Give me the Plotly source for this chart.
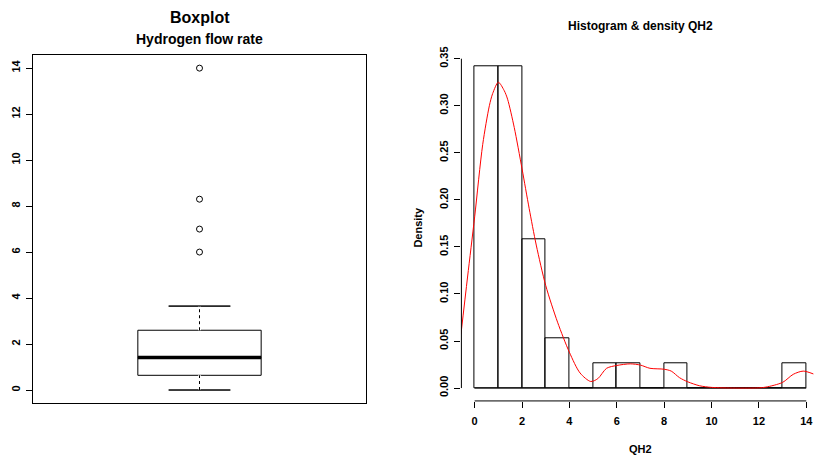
import plotly.graph_objects as go

# ---------------- data ----------------
# Boxplot statistics of the hydrogen flow rate (QH2)
box_lower_whisker = 0.0
box_q1 = 0.64
box_median = 1.41
box_q3 = 2.60
box_upper_whisker = 3.65
box_outliers = [6.0, 7.0, 8.3, 14.0]
box_y_ticks = [0, 2, 4, 6, 8, 10, 12, 14]

# Histogram of QH2 (bin edges and counts)
hist_bin_edges = [0, 1, 2, 3, 4, 5, 6, 7, 8, 9, 10, 11, 12, 13, 14]
hist_counts = [13, 13, 6, 2, 0, 1, 1, 0, 1, 0, 0, 0, 0, 1]
hist_x_ticks = [0, 2, 4, 6, 8, 10, 12, 14]
hist_y_ticks = [0.00, 0.05, 0.10, 0.15, 0.20, 0.25, 0.30, 0.35]
hist_y_ticklabels = ["0.00", "0.05", "0.10", "0.15", "0.20", "0.25", "0.30", "0.35"]

# Kernel density curve
dens_x = [-0.58, -0.3, 0.0, 0.34, 0.62, 0.76, 1.0, 1.25, 1.39, 1.67, 2.0, 2.3, 2.6,
          3.0, 3.5, 4.0, 4.45, 4.9, 5.2, 5.57, 6.0, 6.57, 7.0, 7.4, 8.0, 8.3, 8.65,
          9.0, 9.5, 10.0, 11.0, 12.0, 12.3, 13.0, 13.45, 13.87, 14.3]
dens_y = [0.057, 0.118, 0.182, 0.259, 0.300, 0.313, 0.325, 0.316, 0.307, 0.277,
          0.233, 0.191, 0.152, 0.109, 0.070, 0.038, 0.016, 0.007, 0.010, 0.021,
          0.024, 0.0257, 0.0244, 0.021, 0.020, 0.018, 0.011, 0.0066, 0.0024,
          0.0007, 0.0, 0.0002, 0.001, 0.006, 0.0146, 0.018, 0.015]

# ---------------- derived ----------------
n_obs = sum(hist_counts)
bin_widths = [b - a for a, b in zip(hist_bin_edges[:-1], hist_bin_edges[1:])]
bin_centers = [(a + b) / 2 for a, b in zip(hist_bin_edges[:-1], hist_bin_edges[1:])]
hist_density = [c / (n_obs * w) for c, w in zip(hist_counts, bin_widths)]

W, H = 814, 461
FONT = "Liberation Sans, Arial, Helvetica, sans-serif"

# panel geometry (pixels)
L_X = (33, 366)
L_Y = (49, 402)
R_X = (461.4, 814)
R_Y = (47, 400)

def xdom(px):
    return [px[0] / W, px[1] / W]

def ydom(py):
    return [(H - py[1]) / H, (H - py[0]) / H]

box_pos = 1.0
box_width = 0.4
cap_half = box_width / 4

left_yrange = [box_lower_whisker - 0.04 * 14, 14 + 0.04 * 14]
left_xrange = [0.46, 1.54]

hx_scale = (806.3 - 474.7) / 14.0
right_xrange = [-0.56, -0.56 + (R_X[1] - R_X[0]) / hx_scale]
right_yrange = [-0.04 * max(hist_density), max(hist_density) * 1.04]

fig = go.Figure()

# ---------- left: boxplot ----------
fig.add_trace(go.Box(
    x=[box_pos], q1=[box_q1], median=[box_median], q3=[box_q3],
    lowerfence=[box_lower_whisker], upperfence=[box_upper_whisker],
    width=box_width, whiskerwidth=0.5, fillcolor="white",
    line=dict(color="black", width=1), boxpoints=False,
    xaxis="x", yaxis="y", showlegend=False, hoverinfo="skip"))

# dashed whiskers (cover the solid stems, then dotted)
for lo, hi in [(box_q3, box_upper_whisker), (box_lower_whisker, box_q1)]:
    fig.add_trace(go.Scatter(x=[box_pos, box_pos], y=[lo, hi], mode="lines",
                             line=dict(color="white", width=3),
                             xaxis="x", yaxis="y", showlegend=False, hoverinfo="skip"))
    fig.add_trace(go.Scatter(x=[box_pos, box_pos], y=[lo, hi], mode="lines",
                             line=dict(color="black", width=1, dash="3px,3px"),
                             xaxis="x", yaxis="y", showlegend=False, hoverinfo="skip"))
# caps
for v in [box_upper_whisker, box_lower_whisker]:
    fig.add_trace(go.Scatter(x=[box_pos - cap_half, box_pos + cap_half], y=[v, v],
                             mode="lines", line=dict(color="black", width=1),
                             xaxis="x", yaxis="y", showlegend=False, hoverinfo="skip"))
# thick median
fig.add_trace(go.Scatter(x=[box_pos - box_width / 2, box_pos + box_width / 2],
                         y=[box_median, box_median], mode="lines",
                         line=dict(color="black", width=3.5),
                         xaxis="x", yaxis="y", showlegend=False, hoverinfo="skip"))
# outliers
fig.add_trace(go.Scatter(x=[box_pos] * len(box_outliers), y=box_outliers, mode="markers",
                         marker=dict(symbol="circle-open", size=6,
                                     line=dict(color="black", width=1), color="black"),
                         xaxis="x", yaxis="y", showlegend=False, hoverinfo="skip"))

# ---------- right: histogram ----------
fig.add_trace(go.Bar(x=bin_centers, y=hist_density, width=bin_widths,
                     marker=dict(color="rgba(0,0,0,0)", line=dict(color="black", width=1)),
                     xaxis="x2", yaxis="y2", showlegend=False, hoverinfo="skip"))
fig.add_trace(go.Scatter(x=[hist_bin_edges[0], hist_bin_edges[-1]], y=[0, 0], mode="lines",
                         line=dict(color="black", width=1),
                         xaxis="x2", yaxis="y2", showlegend=False, hoverinfo="skip"))
fig.add_trace(go.Scatter(x=dens_x, y=dens_y, mode="lines",
                         line=dict(color="#FF0000", width=1, shape="spline", smoothing=0.8),
                         xaxis="x2", yaxis="y2", showlegend=False, hoverinfo="skip"))

tickfont = dict(family=FONT, size=11, color="black", weight="bold")

fig.update_layout(
    width=W, height=H, margin=dict(l=0, r=0, t=0, b=0),
    paper_bgcolor="white", plot_bgcolor="white",
    font=dict(family=FONT, color="black"),
    xaxis=dict(domain=xdom(L_X), range=left_xrange, showgrid=False, zeroline=False,
               showticklabels=False, ticks="", showline=True, mirror=True,
               linecolor="black", linewidth=1, anchor="y"),
    yaxis=dict(domain=ydom(L_Y), range=left_yrange, showgrid=False, zeroline=False,
               tickvals=box_y_ticks, ticktext=[str(t) for t in box_y_ticks],
               ticks="outside", ticklen=6, tickcolor="black", tickangle=-90,
               tickfont=tickfont, showline=True, mirror=True,
               linecolor="black", linewidth=1, anchor="x", ticklabelstandoff=2),
    xaxis2=dict(domain=xdom(R_X), range=right_xrange, showgrid=False, zeroline=False,
                tickvals=hist_x_ticks, ticktext=[str(t) for t in hist_x_ticks],
                ticks="outside", ticklen=6, tickcolor="black", tickfont=tickfont,
                showline=False, anchor="y2", ticklabelstandoff=4),
    yaxis2=dict(domain=ydom(R_Y), range=right_yrange, showgrid=False, zeroline=False,
                tickvals=hist_y_ticks, ticktext=hist_y_ticklabels,
                ticks="outside", ticklen=6, tickcolor="black", tickangle=-90,
                tickfont=tickfont, showline=False, anchor="x2", ticklabelstandoff=2),
    bargap=0,
)

# axis lines of the histogram (only over the tick range, like base R)
def to_paper_x(v):
    d = xdom(R_X)
    return d[0] + (v - right_xrange[0]) / (right_xrange[1] - right_xrange[0]) * (d[1] - d[0])

def to_paper_y(v):
    d = ydom(R_Y)
    return d[0] + (v - right_yrange[0]) / (right_yrange[1] - right_yrange[0]) * (d[1] - d[0])

fig.add_shape(type="line", xref="paper", yref="paper",
              x0=to_paper_x(hist_x_ticks[0]), x1=to_paper_x(hist_x_ticks[-1]),
              y0=ydom(R_Y)[0], y1=ydom(R_Y)[0], line=dict(color="black", width=1))
fig.add_shape(type="line", xref="paper", yref="paper",
              x0=xdom(R_X)[0], x1=xdom(R_X)[0],
              y0=to_paper_y(hist_y_ticks[0]), y1=to_paper_y(hist_y_ticks[-1]),
              line=dict(color="black", width=1))

def ann(text, xpx, ypx, size, angle=0):
    fig.add_annotation(text=text, x=xpx / W, y=(H - ypx) / H, xref="paper", yref="paper",
                       showarrow=False, xanchor="center", yanchor="middle", textangle=angle,
                       font=dict(family=FONT, size=size, color="black", weight="bold"))

ann("Boxplot", 199.5, 10.5, 16)
ann("Hydrogen flow rate", 199.5, 32.5, 14)
ann("Histogram & density QH2", 640.5, 19, 12)
ann("Density", 418.5, 223.5, 11, -90)
ann("QH2", 640.5, 448.5, 11)

fig.write_html("out.html", config={"displayModeBar": False},
               post_script="document.body.style.margin='0';document.body.style.overflow='hidden';")
